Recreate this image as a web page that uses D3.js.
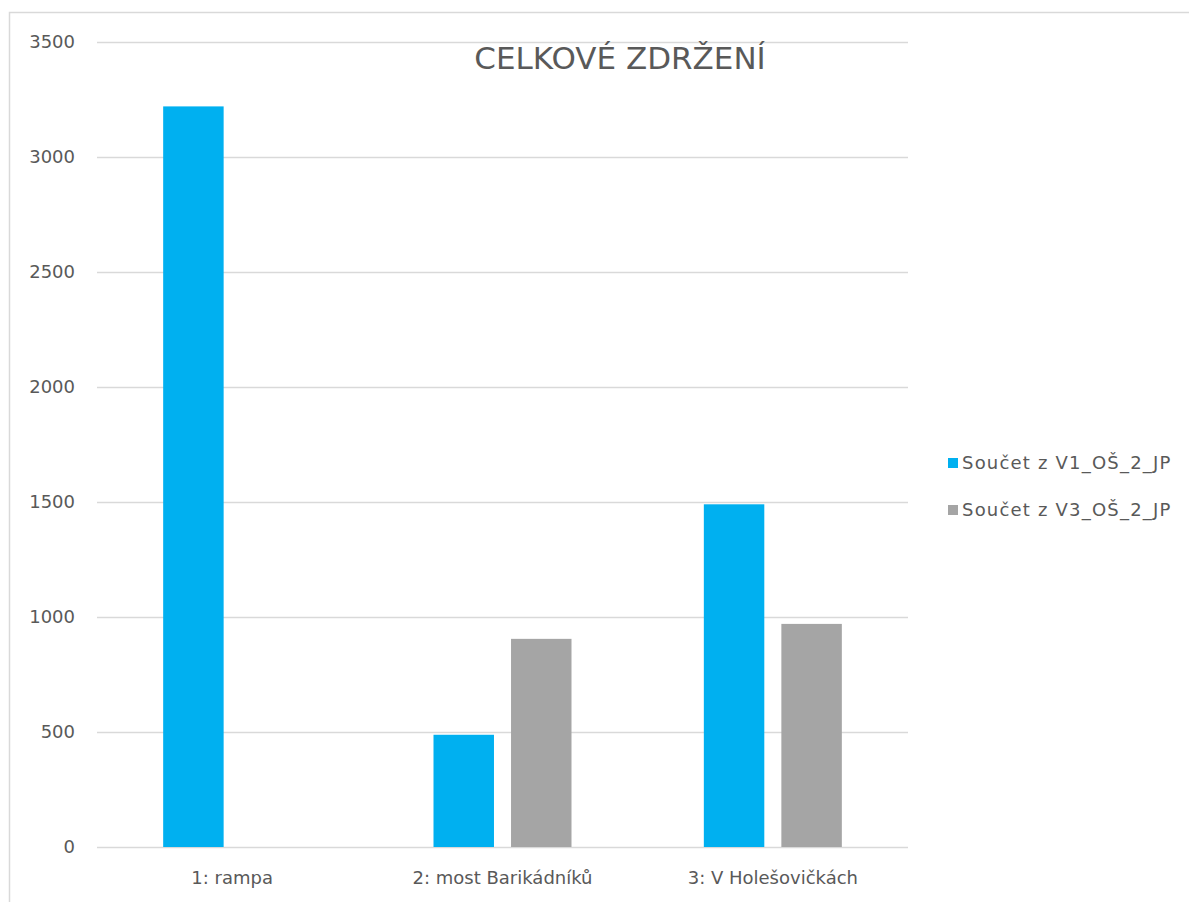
<!DOCTYPE html>
<html>
<head>
<meta charset="utf-8">
<script src="https://cdn.jsdelivr.net/npm/d3@7"></script>
<style>
  html, body { margin: 0; padding: 0; background: #fff; }
  svg { display: block; font-family: "DejaVu Sans", "Open Sans", sans-serif; }
</style>
</head>
<body>
<svg id="chart" width="1189" height="902"></svg>
<script>
// Data
const categories = ["1: rampa", "2: most Barikádníků", "3: V Holešovičkách"];
const seriesNames = ["Součet z V1_OŠ_2_JP", "Součet z V3_OŠ_2_JP"];
const v1Values = [3220, 488, 1490];
const v3Values = [null, 905, 970];
const yTicks = [0, 500, 1000, 1500, 2000, 2500, 3000, 3500];
const chartTitle = "CELKOVÉ ZDRŽENÍ";

const colors = ["#00B0F0", "#A5A5A5"];
const textColor = "#595959";
const gridColor = "#D9D9D9";
const fontFamily = "\"DejaVu Sans\", sans-serif";

const svg = d3.select("#chart");

// Chart frame (top and left edges visible)
svg.append("path")
  .attr("d", "M9.5,902 V12.5 H1189")
  .attr("fill", "none")
  .attr("stroke", gridColor)
  .attr("stroke-width", 1.5);

const plot = { left: 97, right: 908, top: 42, bottom: 847 };

const x = d3.scaleBand()
  .domain(categories)
  .range([plot.left, plot.right])
  .paddingInner(0)
  .paddingOuter(0);

const xSub = d3.scaleBand()
  .domain([0, 1])
  .range([x.bandwidth() / 2 - 69, x.bandwidth() / 2 + 69])
  .paddingInner(0.22);

const y = d3.scaleLinear()
  .domain([0, 3500])
  .range([plot.bottom, plot.top]);

// Gridlines
svg.append("g")
  .selectAll("line")
  .data(yTicks)
  .join("line")
  .attr("x1", plot.left)
  .attr("x2", plot.right)
  .attr("y1", d => Math.round(y(d)) + 0.5)
  .attr("y2", d => Math.round(y(d)) + 0.5)
  .attr("stroke", gridColor)
  .attr("stroke-width", 1.5);

// Y axis labels
const yAxis = d3.axisLeft(y).tickValues(yTicks).tickSize(0).tickPadding(0).tickFormat(d3.format("d"));
const yg = svg.append("g")
  .attr("transform", `translate(75,0)`)
  .call(yAxis);
yg.select(".domain").remove();
yg.selectAll("text")
  .attr("fill", textColor)
  .attr("font-size", 18)
  .attr("font-family", fontFamily);

// Bars
const seriesData = [v1Values, v3Values];
seriesData.forEach((vals, si) => {
  svg.append("g")
    .selectAll("rect")
    .data(categories.map((c, i) => ({ c, v: vals[i] })).filter(d => d.v != null))
    .join("rect")
    .attr("x", d => x(d.c) + xSub(si))
    .attr("width", xSub.bandwidth())
    .attr("y", d => y(d.v))
    .attr("height", d => y(0) - y(d.v))
    .attr("fill", colors[si]);
});

// X axis labels
const xAxis = d3.axisBottom(x).tickSize(0).tickPadding(0);
const xg = svg.append("g")
  .attr("transform", `translate(0,${plot.bottom + 24})`)
  .call(xAxis);
xg.select(".domain").remove();
xg.selectAll("text")
  .attr("fill", textColor)
  .attr("font-size", 18)
  .attr("font-family", fontFamily);

// Title
svg.append("text")
  .attr("x", 620)
  .attr("y", 69)
  .attr("text-anchor", "middle")
  .attr("fill", textColor)
  .attr("font-size", 31)
  .text(chartTitle);

// Legend
const legend = svg.append("g").attr("transform", "translate(948,0)");
const legendY = [463, 510];
seriesNames.forEach((name, i) => {
  legend.append("rect")
    .attr("x", 0)
    .attr("y", legendY[i] - 5)
    .attr("width", 10)
    .attr("height", 10)
    .attr("fill", colors[i]);
  legend.append("text")
    .attr("x", 14)
    .attr("y", legendY[i])
    .attr("dy", "0.35em")
    .attr("fill", textColor)
    .attr("font-size", 18)
    .attr("letter-spacing", 1.2)
    .text(name);
});
</script>
</body>
</html>
